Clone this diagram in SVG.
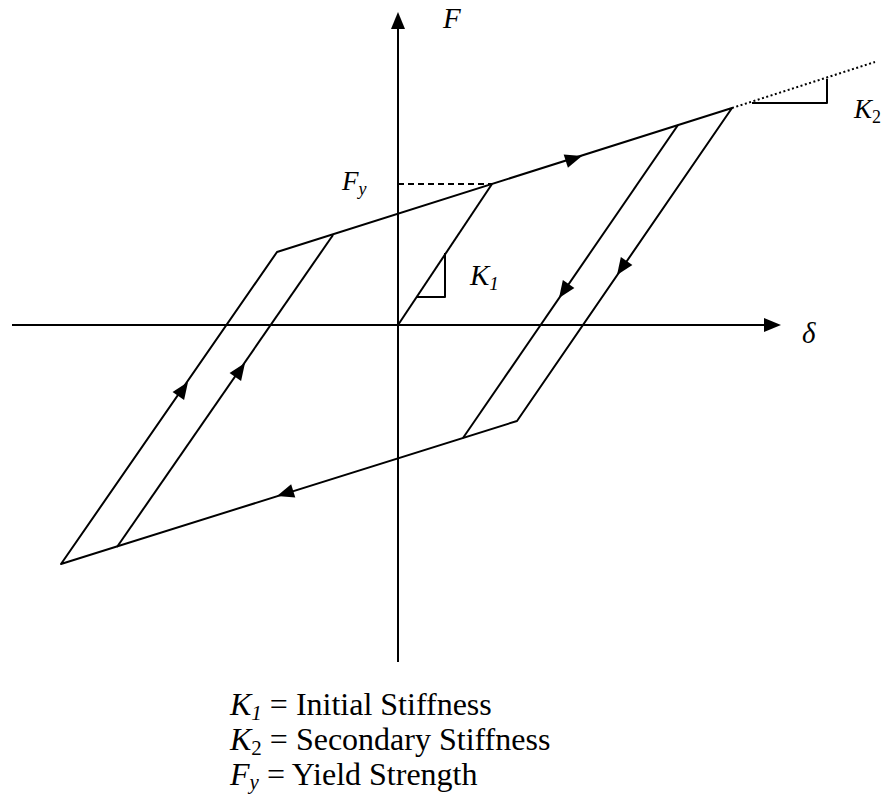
<svg xmlns="http://www.w3.org/2000/svg" xmlns:xlink="http://www.w3.org/1999/xlink" width="888" height="797" viewBox="0 0 888 797">
<style>
.ln{stroke:#000;stroke-width:2;fill:none;stroke-linejoin:round}
.ax{stroke:#000;stroke-width:2;fill:none}
.t{font-family:"Liberation Serif","Times New Roman",serif;fill:#000}
.it{font-style:italic}
</style>
<defs>
<path id="ah" d="M0,0 L-17,-7 L-17,7 Z" fill="#000"/>
</defs>
<rect width="888" height="797" fill="#fff"/>
<g id="axes">
<line class="ax" x1="398" y1="662" x2="398" y2="26"/>
<use xlink:href="#ah" transform="translate(398,12) rotate(-90)"/>
<line class="ax" x1="12" y1="325" x2="766" y2="325"/>
<use xlink:href="#ah" transform="translate(781,325)"/>
</g>
<g id="connectors">
<path class="ln" d="M398,325 L492,184"/>
<line class="ax" x1="398" y1="184" x2="492" y2="184" stroke-dasharray="6,4"/>
<path class="ln" d="M277,252 L732,108 L517,421 L61,564 Z"/>
<path class="ln" d="M333,235 L117,547"/>
<path class="ln" d="M678,125 L463,438"/>
<line class="ax" x1="732" y1="108" x2="875" y2="62" stroke-dasharray="2,2.5"/>
<path class="ln" d="M417,297 L445,297 L445,253"/>
<path class="ln" d="M752,103 L827,103 L827,79"/>
<use xlink:href="#ah" transform="translate(188,382) rotate(-55.3)"/>
<use xlink:href="#ah" transform="translate(245,363) rotate(-55.3)"/>
<use xlink:href="#ah" transform="translate(277,496) rotate(162.6)"/>
<use xlink:href="#ah" transform="translate(582,156) rotate(-17.6)"/>
<use xlink:href="#ah" transform="translate(559,298) rotate(124.5)"/>
<use xlink:href="#ah" transform="translate(617,275) rotate(124.5)"/>
</g>
<g id="labels">
<text class="t it" x="443" y="28" font-size="29">F</text>
<text class="t it" x="802" y="343" font-size="29">δ</text>
<text class="t it" x="342" y="190" font-size="27">F<tspan font-size="18" dy="5">y</tspan></text>
<text class="t it" x="470" y="285" font-size="29">K<tspan font-size="19" dy="5">1</tspan></text>
<text class="t it" x="854" y="118" font-size="27">K<tspan font-size="18" dy="5" font-style="normal">2</tspan></text>
</g>
<g id="legend">
<text class="t" x="230" y="715" font-size="32"><tspan class="it">K</tspan><tspan class="it" font-size="21" dy="5">1</tspan><tspan dy="-5"> = Initial Stiffness</tspan></text>
<text class="t" x="230" y="750" font-size="32"><tspan class="it">K</tspan><tspan font-size="21" dy="5">2</tspan><tspan dy="-5"> = Secondary Stiffness</tspan></text>
<text class="t" x="230" y="785" font-size="32"><tspan class="it">F</tspan><tspan class="it" font-size="21" dy="4">y</tspan><tspan dy="-4"> = Yield Strength</tspan></text>
</g>
</svg>
